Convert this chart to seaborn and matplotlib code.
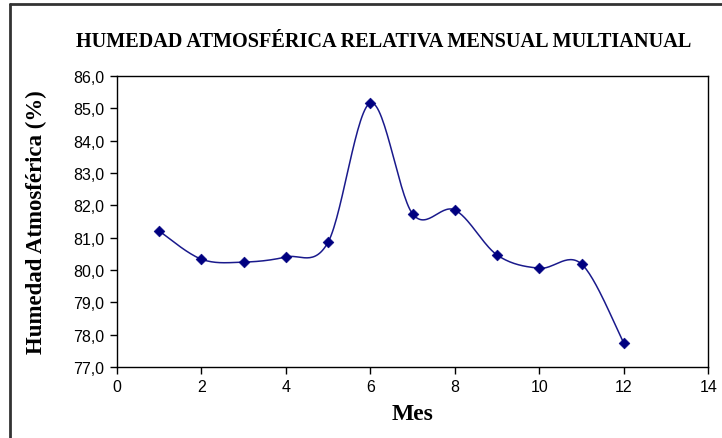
import numpy as np
import pandas as pd
import matplotlib
matplotlib.use("Agg")
import matplotlib.pyplot as plt
import seaborn as sns
from matplotlib.lines import Line2D
from matplotlib.ticker import FuncFormatter

meses = [1, 2, 3, 4, 5, 6, 7, 8, 9, 10, 11, 12]
humedad = [81.2, 80.33, 80.24, 80.4, 80.86, 85.16, 81.73, 81.85, 80.46, 80.05, 80.18, 77.73]

sns.set_theme(style="white")
plt.rcParams['font.family'] = ['Liberation Sans', 'DejaVu Sans']
plt.rcParams['text.color'] = 'black'
plt.rcParams['axes.labelcolor'] = 'black'

def smooth(x, y, n=30):
    # Catmull-Rom style smoothing (like Excel's smoothed line)
    x = np.asarray(x, float); y = np.asarray(y, float)
    px = np.concatenate([[x[0]], x, [x[-1]]])
    py = np.concatenate([[y[0]], y, [y[-1]]])
    xs, ys = [], []
    for i in range(1, len(px) - 2):
        p0, p1, p2, p3 = (np.array([px[j], py[j]]) for j in (i - 1, i, i + 1, i + 2))
        c1 = p1 + (p2 - p0) / 6
        c2 = p2 - (p3 - p1) / 6
        t = np.linspace(0, 1, n, endpoint=(i == len(px) - 3))[:, None]
        b = ((1 - t) ** 3) * p1 + 3 * ((1 - t) ** 2) * t * c1 + 3 * (1 - t) * t ** 2 * c2 + t ** 3 * p2
        xs.append(b[:, 0]); ys.append(b[:, 1])
    return np.concatenate(xs), np.concatenate(ys)

sx, sy = smooth(meses, humedad)
df_line = pd.DataFrame({"x": sx, "y": sy})
df_pts = pd.DataFrame({"Mes": meses, "Humedad": humedad})

fig = plt.figure(figsize=(7.22, 4.39), dpi=100)
ax = fig.add_axes([0.162, 0.162, 0.819, 0.663])
color = "#000080"
sns.lineplot(data=df_line, x="x", y="y", ax=ax, color="#1a1a8c", lw=1.1, sort=False, estimator=None)
sns.scatterplot(data=df_pts, x="Mes", y="Humedad", ax=ax, color=color, marker="D", s=30, edgecolor=color, zorder=5)

ax.set_xlim(0, 14)
ax.set_ylim(77, 86)
ax.set_xticks(range(0, 15, 2))
ax.set_yticks(np.arange(77, 86.5, 1))
ax.yaxis.set_major_formatter(FuncFormatter(lambda v, p: f"{v:.1f}".replace(".", ",")))
for s in ax.spines.values():
    s.set_color("black"); s.set_linewidth(1.0)
ax.tick_params(axis="both", which="major", length=5, width=1, direction="out", color="black",
               labelsize=11.5, labelcolor="black", bottom=True, left=True, pad=4)

serif = ['Liberation Serif', 'DejaVu Serif']
ax.set_xlabel("Mes", fontsize=17, fontweight="bold", family=serif, color="black")
ax.set_ylabel("Humedad Atmosférica (%)", fontsize=16.5, fontweight="bold", family=serif, color="black")
ax.xaxis.set_label_coords(0.5, -0.125)
ax.yaxis.set_label_coords(-0.118, 0.5)
fig.text(0.532, 0.905, "HUMEDAD ATMOSFÉRICA RELATIVA MENSUAL MULTIANUAL", ha="center", va="center",
         fontsize=14.6, fontweight="bold", family=serif, color="black")

fig.add_artist(Line2D([0.014, 0.014], [0.0, 0.988], transform=fig.transFigure, color="#333333", lw=2))
fig.add_artist(Line2D([0.014, 1.0], [0.988, 0.988], transform=fig.transFigure, color="#333333", lw=2))

fig.savefig("out.png", dpi=100)
